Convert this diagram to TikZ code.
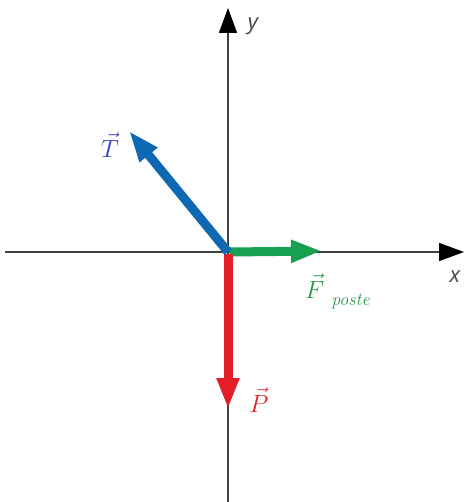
\documentclass[tikz,border=0pt]{standalone}
\usepackage{fontspec}
\newfontfamily\axisfont{Open Sans}
\usetikzlibrary{arrows.meta}
\definecolor{tblue}{RGB}{14,104,178}
\definecolor{tlab}{RGB}{52,60,200}
\definecolor{fgreen}{RGB}{22,160,80}
\definecolor{flab}{RGB}{40,150,70}
\definecolor{pred}{RGB}{228,30,40}
\definecolor{axgray}{RGB}{70,70,70}
\tikzset{
  axisline/.style={line width=1.3pt, draw=black!75, -{Triangle[length=25pt,width=18pt,color=black]}},
  force/.style={line width=9pt, -{Triangle[length=31pt,width=21pt]}},
  axlabel/.style={font=\axisfont\itshape\fontsize{22}{22}\selectfont, text=axgray, inner sep=0pt},
  flabel/.style={font=\fontsize{28}{28}\selectfont, inner sep=0pt}
}
\begin{document}
\begin{tikzpicture}[x=1pt,y=-1pt]
\useasboundingbox (0,0) rectangle (464,502);
\coordinate (O) at (228,252);
\coordinate (xl) at (5,252);
\coordinate (xr) at (464,252);
\coordinate (yb) at (228,502);
\coordinate (yt) at (228,8);
\draw[axisline] (xl) -- (xr);
\draw[axisline] (yb) -- (yt);
\coordinate (Tt) at (129,131);
\coordinate (Ft) at (322,251);
\coordinate (Pt) at (228,409);
\draw[force, draw=fgreen, fill=fgreen] ([xshift=2pt]O) -- (Ft);
\draw[force, draw=pred, fill=pred] ([yshift=-2pt]O) -- (Pt);
\draw[force, draw=tblue, fill=tblue] (O) -- (Tt);
\node[axlabel] (ylab) at (253,26) {y};
\node[axlabel] (xlab) at (455,277) {x};
\node[flabel, text=tlab] (Tlab) at (110,145) {$\vec{T}$};
\node[flabel, text=flab, anchor=base west] (Flab) at (305,298) {$\vec{F}$\kern7pt\raisebox{-7pt}{\fontsize{18}{18}\selectfont\itshape poste}};
\node[flabel, text=pred] (Plab) at (259,400) {$\vec{P}$};
\end{tikzpicture}
\end{document}
